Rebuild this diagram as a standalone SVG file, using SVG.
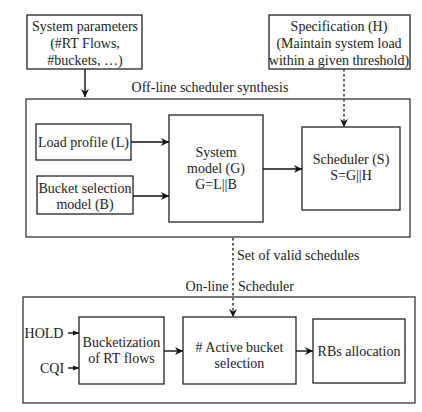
<svg xmlns="http://www.w3.org/2000/svg" width="422" height="412" viewBox="0 0 422 412">
<style>
.b{fill:#fff;stroke:#222;stroke-width:1.3}
.o{fill:none;stroke:#333;stroke-width:1.3}
.l{stroke:#111;stroke-width:1.4;fill:none}
.d{stroke:#222;stroke-width:1.4;fill:none;stroke-dasharray:2.5 2.5}
</style>
<defs>
<marker id="a" viewBox="0 0 10 10" refX="10" refY="5" markerWidth="8" markerHeight="8" markerUnits="userSpaceOnUse" orient="auto">
<path d="M0,0 L10,5 L0,10 L3,5 Z" fill="#111"/>
</marker>
<marker id="s" viewBox="0 0 10 10" refX="10" refY="5" markerWidth="6" markerHeight="6" markerUnits="userSpaceOnUse" orient="auto">
<path d="M0,1 L10,5 L0,9 Z" fill="#111"/>
</marker>
</defs>
<g font-family="Liberation Serif, serif" font-size="14" fill="#222" text-anchor="middle" dominant-baseline="central">
<g id="offline">
<rect class="o" x="26" y="99" width="384" height="138"/>
<text x="210" y="87">Off-line scheduler synthesis</text>
</g>
<g id="online">
<rect class="o" x="23" y="297" width="392" height="106"/>
<text x="207" y="286">On-line</text>
<text x="266" y="286">Scheduler</text>
</g>
<g id="sysparams">
<rect class="b" x="27" y="15" width="115" height="54"/>
<text x="85" y="26">System parameters</text>
<text x="85" y="43">(#RT Flows,</text>
<text x="85" y="60">#buckets, …)</text>
</g>
<g id="spec">
<rect class="b" x="269" y="15" width="141" height="54"/>
<text x="339" y="26">Specification (H)</text>
<text x="339" y="43">(Maintain system load</text>
<text x="339" y="60">within a given threshold)</text>
</g>
<g id="load">
<rect class="b" x="36" y="124" width="95" height="36"/>
<text x="83.5" y="142">Load profile (L)</text>
</g>
<g id="bucketsel">
<rect class="b" x="37" y="176" width="96" height="38"/>
<text x="85" y="188">Bucket selection</text>
<text x="85" y="204">model (B)</text>
</g>
<g id="sysmodel">
<rect class="b" x="169" y="115" width="94" height="107"/>
<text x="216" y="152">System</text>
<text x="216" y="168">model (G)</text>
<text x="216" y="184">G=L||B</text>
</g>
<g id="scheduler">
<rect class="b" x="302" y="127" width="98" height="83"/>
<text x="351" y="159">Scheduler (S)</text>
<text x="351" y="175">S=G||H</text>
</g>
<g id="bucketization">
<rect class="b" x="79" y="317" width="85" height="67"/>
<text x="121.5" y="342">Bucketization</text>
<text x="121.5" y="358">of RT flows</text>
</g>
<g id="active">
<rect class="b" x="183" y="317" width="113" height="67"/>
<text x="239.5" y="347"># Active bucket</text>
<text x="239.5" y="363">selection</text>
</g>
<g id="rbs">
<rect class="b" x="313" y="319" width="92" height="64"/>
<text x="359" y="351">RBs allocation</text>
</g>
<g id="inputs">
<text x="44" y="333">HOLD</text>
<text x="52" y="368">CQI</text>
</g>
<g id="connectors">
<line class="l" x1="85" y1="69" x2="85" y2="97" marker-end="url(#a)"/>
<line class="d" x1="344" y1="69" x2="344" y2="127" marker-end="url(#a)"/>
<line class="l" x1="131" y1="142" x2="169" y2="142" marker-end="url(#a)"/>
<line class="l" x1="133" y1="196" x2="169" y2="196" marker-end="url(#a)"/>
<line class="l" x1="263" y1="169" x2="302" y2="169" marker-end="url(#a)"/>
<line class="d" x1="233" y1="238" x2="233" y2="317" marker-end="url(#a)"/>
<text x="237" y="255" text-anchor="start">Set of valid schedules</text>
<line class="l" x1="164" y1="351" x2="183" y2="351" marker-end="url(#a)"/>
<line class="l" x1="296" y1="351" x2="313" y2="351" marker-end="url(#a)"/>
<line class="l" x1="68" y1="333" x2="79" y2="333" marker-end="url(#s)"/>
<line class="l" x1="68" y1="368" x2="79" y2="368" marker-end="url(#s)"/>
</g>
</g>
</svg>
